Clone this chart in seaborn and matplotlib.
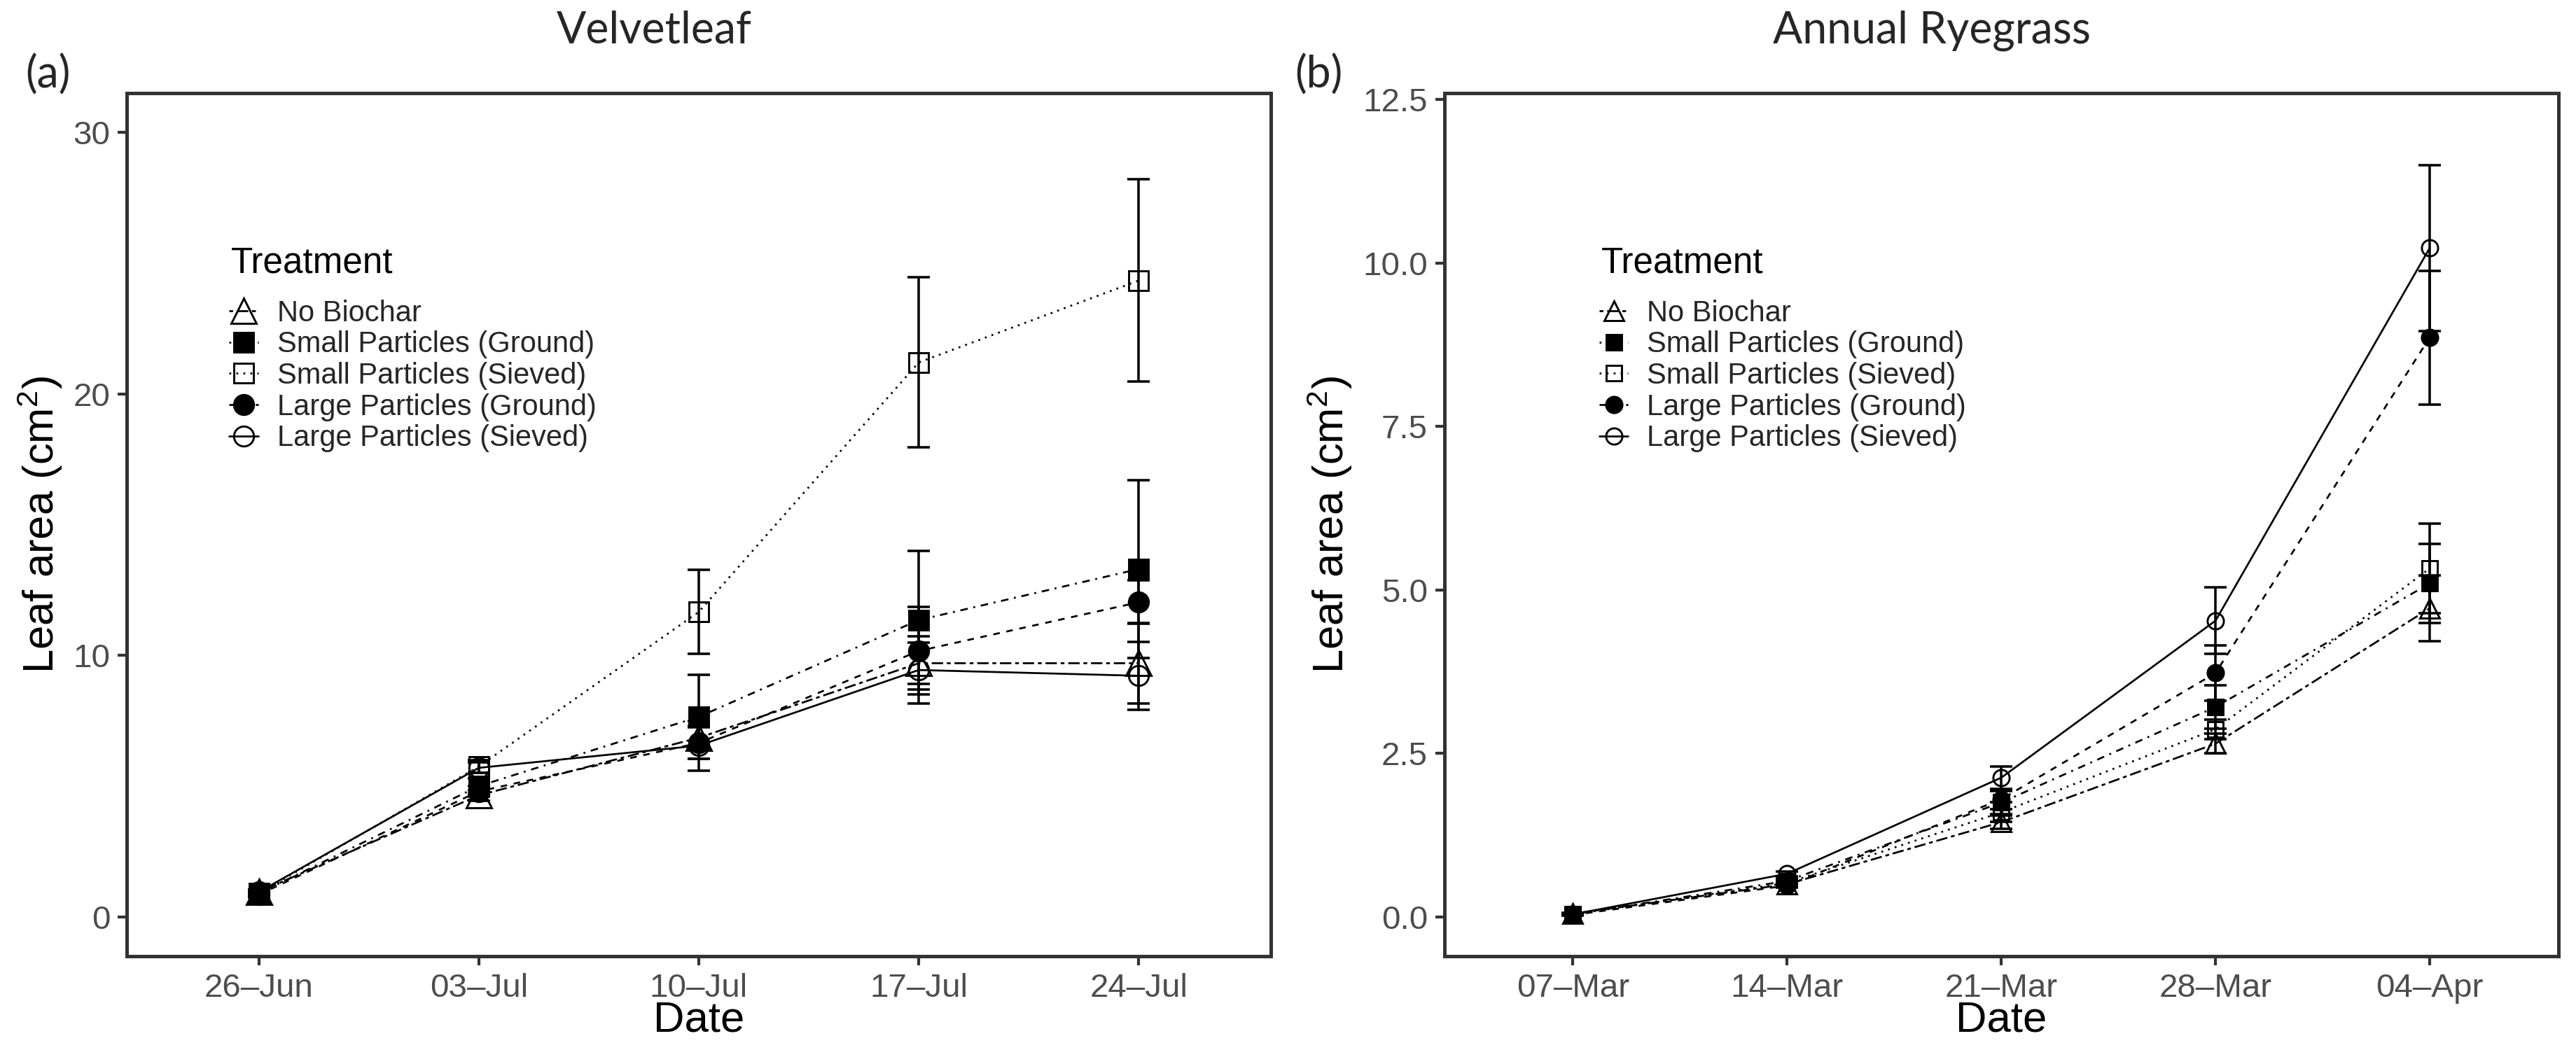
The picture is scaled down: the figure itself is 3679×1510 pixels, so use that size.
import matplotlib
matplotlib.use("Agg")
import matplotlib.pyplot as plt
from matplotlib.lines import Line2D
import seaborn as sns
import pandas as pd

# values (mean leaf area, cm2, and standard error)
treatments = ["No Biochar", "Small Particles (Ground)", "Small Particles (Sieved)",
              "Large Particles (Ground)", "Large Particles (Sieved)"]

dates_a = ["26–Jun", "03–Jul", "10–Jul", "17–Jul", "24–Jul"]
vl_nb = [0.95, 4.65, 6.85, 9.70, 9.70]
vl_spg = [0.90, 5.00, 7.65, 11.35, 13.30]
vl_sps = [0.90, 5.75, 11.66, 21.20, 24.33]
vl_lpg = [0.85, 4.80, 6.65, 10.17, 12.03]
vl_lps = [0.95, 5.70, 6.55, 9.44, 9.22]
vl_nb_se = [0.10, 0.20, 0.45, 0.80, 1.55]
vl_spg_se = [0.10, 0.30, 1.60, 2.65, 3.40]
vl_sps_se = [0.10, 0.25, 1.60, 3.25, 3.87]
vl_lpg_se = [0.10, 0.20, 0.60, 1.67, 0.83]
vl_lps_se = [0.10, 0.20, 0.95, 1.29, 1.30]

dates_b = ["07–Mar", "14–Mar", "21–Mar", "28–Mar", "04–Apr"]
rg_nb = [0.05, 0.50, 1.45, 2.65, 4.72]
rg_spg = [0.04, 0.55, 1.75, 3.21, 5.10]
rg_sps = [0.04, 0.52, 1.60, 2.87, 5.33]
rg_lpg = [0.03, 0.48, 1.80, 3.73, 8.86]
rg_lps = [0.04, 0.66, 2.13, 4.53, 10.23]
rg_nb_se = [0.01, 0.03, 0.10, 0.15, 0.50]
rg_spg_se = [0.01, 0.04, 0.18, 0.33, 0.60]
rg_sps_se = [0.01, 0.04, 0.15, 0.15, 0.68]
rg_lpg_se = [0.01, 0.03, 0.15, 0.42, 1.02]
rg_lps_se = [0.01, 0.04, 0.17, 0.51, 1.27]


def make_long(dates, means, ses):
    rows = []
    for t, m, s in zip(treatments, means, ses):
        for i, d in enumerate(dates):
            rows.append({"Treatment": t, "Date": d, "pos": i, "area": m[i], "se": s[i]})
    return pd.DataFrame(rows)


df_a = make_long(dates_a, [vl_nb, vl_spg, vl_sps, vl_lpg, vl_lps],
                 [vl_nb_se, vl_spg_se, vl_sps_se, vl_lpg_se, vl_lps_se])
df_b = make_long(dates_b, [rg_nb, rg_spg, rg_sps, rg_lpg, rg_lps],
                 [rg_nb_se, rg_spg_se, rg_sps_se, rg_lpg_se, rg_lps_se])

# ggplot-like look per treatment
styles = {
    "No Biochar": dict(ls=(0, (2, 2, 6, 2)), marker="^", mfc="none", scale=1.3),
    "Small Particles (Ground)": dict(ls=(0, (1, 3, 4, 3)), marker="s", mfc="black", scale=1.0),
    "Small Particles (Sieved)": dict(ls=(0, (1, 2.7)), marker="s", mfc="none", scale=1.0),
    "Large Particles (Ground)": dict(ls=(0, (3.5, 3.5)), marker="o", mfc="black", scale=1.05),
    "Large Particles (Sieved)": dict(ls="-", marker="o", mfc="none", scale=1.05),
}

sns.set_style("white")
narrow = ["Liberation Sans Narrow", "Liberation Sans", "DejaVu Sans"]
plt.rcParams["font.family"] = narrow
plt.rcParams["mathtext.fontset"] = "custom"
plt.rcParams["mathtext.rm"] = "Liberation Sans"
plt.rcParams["mathtext.it"] = "Liberation Sans"

fig = plt.figure(figsize=(3679 / 300, 1510 / 300), dpi=300)
ax_a = fig.add_axes([0.0492, 0.0954, 0.4441, 0.8166])
ax_b = fig.add_axes([0.5607, 0.0954, 0.4324, 0.8166])


def draw_panel(ax, df, dates, ms, ylim, yticks, yticklabels, title_x, leg_x):
    for t in treatments:
        st = styles[t]
        sub = df[df["Treatment"] == t]
        ax.errorbar(sub["pos"], sub["area"], yerr=sub["se"], fmt="none",
                    ecolor="black", elinewidth=0.85, capsize=3.9, capthick=0.85, zorder=2)
        sns.lineplot(data=sub, x="pos", y="area", ax=ax, color="black",
                     linestyle=st["ls"], linewidth=0.65, marker=st["marker"],
                     markersize=ms * st["scale"], markerfacecolor=st["mfc"],
                     markeredgecolor="black", markeredgewidth=0.7,
                     errorbar=None, legend=False, sort=False, zorder=3)
    ax.set_xlim(-0.6, len(dates) - 0.4)
    ax.set_ylim(*ylim)
    ax.set_xticks(range(len(dates)))
    ax.set_xticklabels(dates)
    ax.set_yticks(yticks)
    ax.set_yticklabels(yticklabels)
    ax.tick_params(axis="both", length=3.2, width=1.0, color="#333333",
                   labelsize=11.4, labelcolor="#4D4D4D", pad=2.5, direction="out",
                   bottom=True, left=True)
    for sp in ax.spines.values():
        sp.set_color("#333333")
        sp.set_linewidth(1.2)
    ax.set_xlabel("Date", fontsize=14.8, color="black", labelpad=-1)
    ax.set_ylabel(r"Leaf area (cm$^{2}$)", fontsize=14.8, color="black", labelpad=3)

    handles = []
    for t in treatments:
        st = styles[t]
        handles.append(Line2D([], [], color="black", linestyle=st["ls"], linewidth=0.65,
                              marker=st["marker"], markersize=ms * st["scale"],
                              markerfacecolor=st["mfc"], markeredgecolor="black",
                              markeredgewidth=0.7))
    ax.text(title_x, 0.803, "Treatment", transform=ax.transAxes, ha="left",
            va="center", fontsize=12.3, color="black")
    ax.legend(handles, treatments, loc="upper left",
              bbox_to_anchor=(leg_x, 0.771), frameon=False, borderaxespad=0,
              fontsize=10.0, handlelength=1.0, handletextpad=0.65,
              labelspacing=0.11, borderpad=0.3)


draw_panel(ax_a, df_a, dates_a, 6.5, (-1.5, 31.5), [0, 10, 20, 30],
           ["0", "10", "20", "30"], 0.091, 0.082)
draw_panel(ax_b, df_b, dates_b, 5.3, (-0.6, 12.6), [0, 2.5, 5, 7.5, 10, 12.5],
           ["0.0", "2.5", "5.0", "7.5", "10.0", "12.5"], 0.141, 0.131)

title_font = ["Lato", "DejaVu Sans"]
fig.text(0.254, 0.971, "Velvetleaf", ha="center", va="center", fontsize=15,
         family=title_font)
fig.text(0.750, 0.971, "Annual Ryegrass", ha="center", va="center", fontsize=15,
         family=title_font)
fig.text(0.0185, 0.929, "(a)", ha="center", va="center", fontsize=15, family=title_font)
fig.text(0.512, 0.929, "(b)", ha="center", va="center", fontsize=15, family=title_font)

fig.savefig("out.png", dpi=300, facecolor="white")
